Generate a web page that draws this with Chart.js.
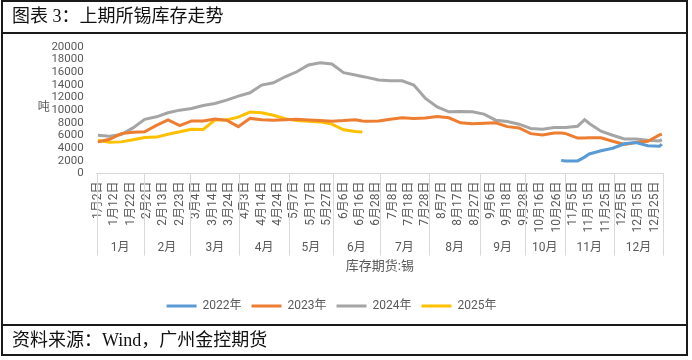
<!DOCTYPE html>
<html>
<head>
<meta charset="utf-8">
<script src="https://cdn.jsdelivr.net/npm/chart.js@4.4.1/dist/chart.umd.min.js"></script>
<style>
  html, body { margin: 0; padding: 0; background: #fff; }
  #wrap { position: relative; width: 692px; height: 360px; overflow: hidden; }
  #c { position: absolute; left: 0; top: 0; }
  .ln { position: absolute; background: #1a1a1a; pointer-events: none; }
  .txt { position: absolute; font-family: 'Liberation Serif', 'Noto Sans CJK SC', serif; font-size: 18px; color: #111; white-space: nowrap; line-height: 1; }
</style>
</head>
<body>
<div id="wrap">
  <canvas id="c" width="692" height="360"></canvas>
  <div class="ln" style="left:1px;top:0;width:687px;height:2px"></div>
  <div class="ln" style="left:1px;top:32px;width:687px;height:2px"></div>
  <div class="ln" style="left:1px;top:324px;width:687px;height:2px"></div>
  <div class="ln" style="left:1px;top:354px;width:687px;height:2px"></div>
  <div class="ln" style="left:1px;top:0;width:2px;height:356px"></div>
  <div class="ln" style="left:686px;top:0;width:2px;height:356px"></div>
  <div class="txt" style="left:12px;top:7px">图表 3：上期所锡库存走势</div>
  <div class="txt" style="left:12px;top:331px">资料来源：Wind，广州金控期货</div>
</div>
<script>
// 交易日序号（横轴按交易日排列）
const dayIdx = [0, 5, 10, 15, 20, 25, 30, 35, 40, 45, 50, 55, 60, 65, 70, 75, 80, 85, 90, 95, 100, 105, 110, 113, 115,
  120, 125, 130, 135, 140, 145, 150, 155, 160, 165, 170, 175, 180, 185, 190, 195, 198, 200, 205, 208, 210, 215, 220, 225, 230, 235, 240, 241];

const s2022 = [null, null, null, null, null, null, null, null, null, null, null, null, null, null, null, null, null, null, null, null, null, null, null, null, null,
  null, null, null, null, null, null, null, null, null, null, null, null, null, null, null, null, 2050, 2000, 2000, 2600, 3100, 3600, 4000, 4700, 4900, 4400, 4300, 4650];
const s2023 = [5000, 5400, 6300, 6500, 6600, 7600, 8450, 7550, 8300, 8300, 8600, 8400, 7400, 8700, 8500, 8400, 8500, 8550, 8450, 8350, 8250, 8350, 8500, 8300, 8250,
  8300, 8550, 8800, 8700, 8750, 9000, 8800, 8000, 7850, 7950, 8000, 7400, 7200, 6300, 6100, 6400, 6400, 6300, 5600, 5600, 5650, 5650, 5100, 4600, 4900, 5100, 6100, 6200];
const s2024 = [6050, 5900, 6150, 7200, 8550, 8950, 9580, 10000, 10270, 10740, 11060, 11580, 12210, 12740, 13950, 14320, 15260, 16050, 17110, 17480, 17270, 15900, 15530, 15300, 15170,
  14740, 14630, 14630, 13950, 11850, 10520, 9730, 9800, 9730, 9370, 8420, 8210, 7790, 7110, 7000, 7270, 7270, 7270, 7470, 8500, 7900, 6680, 6050, 5470, 5470, 5260, 5150, 5350];
const s2025 = [5200, 4950, 5000, 5350, 5700, 5750, 6200, 6600, 7000, 6950, 8450, 8450, 8900, 9700, 9600, 9200, 8650, 8350, 8250, 8150, 7800, 6900, 6650, 6550, null,
  null, null, null, null, null, null, null, null, null, null, null, null, null, null, null, null, null, null, null, null, null, null, null, null, null, null, null, null];

// 刻度标签（每7个交易日一个）
const tickDay = [0, 7, 14, 21, 28, 35, 42, 49, 56, 63, 70, 77, 84, 91, 98, 105, 112, 119, 126, 133, 140, 147, 154, 161, 168, 175, 182, 189, 196, 203, 210, 217, 224, 231, 238];
const tickLabels = ['1月2日', '1月12日', '1月22日', '2月2日', '2月13日', '2月23日', '3月4日', '3月14日', '3月24日', '4月3日', '4月14日', '4月24日',
  '5月7日', '5月17日', '5月27日', '6月6日', '6月16日', '6月28日', '7月8日', '7月18日', '7月28日', '8月7日', '8月17日', '8月27日',
  '9月6日', '9月18日', '9月28日', '10月16日', '10月26日', '11月5日', '11月15日', '11月25日', '12月5日', '12月15日', '12月25日'];

// 月份分组（每月第一个交易日序号）
const monthNames = ['1月', '2月', '3月', '4月', '5月', '6月', '7月', '8月', '9月', '10月', '11月', '12月'];
const monthStart = [0, 20, 40, 61, 82, 101, 121, 142, 164, 183, 200, 221, 242];

const seriesNames = ['2022年', '2023年', '2024年', '2025年'];
const seriesColors = ['#5B9BD5', '#ED7D31', '#A5A5A5', '#FFC000'];
const seriesData = [s2022, s2023, s2024, s2025];

const FONT = "Roboto, 'Noto Sans CJK SC', sans-serif";
const GREY = '#595959';
Chart.defaults.font.family = FONT;
Chart.defaults.color = GREY;

// 双层分类轴：月份分隔线与月份标签、"吨"
const monthAxis = {
  id: 'monthAxis',
  afterDraw(chart) {
    const x = chart.scales.x;
    const ctx = chart.ctx;
    const top = x.top;
    ctx.save();
    ctx.strokeStyle = '#d9d9d9';
    ctx.lineWidth = 1;
    monthStart.forEach((d) => {
      const px = Math.round(x.getPixelForValue(d - 0.5)) + 0.5;
      ctx.beginPath();
      ctx.moveTo(px, top);
      ctx.lineTo(px, top + 82);
      ctx.stroke();
    });
    ctx.fillStyle = GREY;
    ctx.font = '12px ' + FONT;
    ctx.textAlign = 'center';
    ctx.textBaseline = 'middle';
    monthNames.forEach((m, i) => {
      const a = x.getPixelForValue(monthStart[i] - 0.5);
      const b = x.getPixelForValue(monthStart[i + 1] - 0.5);
      ctx.fillText(m, (a + b) / 2, top + 74);
    });
    const ca = chart.chartArea;
    ctx.fillText('吨', ca.left - 53, (ca.top + ca.bottom) / 2 - 2);
    ctx.restore();
  }
};

new Chart(document.getElementById('c'), {
  type: 'line',
  data: {
    datasets: seriesData.map((arr, k) => ({
      label: seriesNames[k],
      data: dayIdx.map((d, i) => ({ x: d, y: arr[i] })),
      borderColor: seriesColors[k],
      backgroundColor: seriesColors[k],
      borderWidth: 3,
      pointRadius: 0,
      tension: 0,
      spanGaps: false
    }))
  },
  options: {
    responsive: false,
    animation: false,
    devicePixelRatio: 1,
    layout: { padding: { left: 0, right: 29, top: 46.7, bottom: 38 } },
    plugins: {
      tooltip: { enabled: false },
      legend: {
        position: 'bottom',
        labels: {
          boxWidth: 30,
          boxHeight: 3,
          padding: 10,
          color: GREY,
          font: { size: 12 },
          generateLabels: (chart) => Chart.defaults.plugins.legend.labels.generateLabels(chart)
            .map((l) => Object.assign(l, { lineWidth: 0 }))
        }
      }
    },
    scales: {
      x: {
        type: 'linear',
        min: -0.5,
        max: 241.5,
        afterFit: (s) => { s.height = 116.4; },
        afterBuildTicks: (s) => { s.ticks = tickDay.map((v) => ({ value: v })); },
        grid: { display: false, drawTicks: false },
        border: { display: true, color: '#d9d9d9', width: 1 },
        ticks: {
          autoSkip: false,
          minRotation: 90,
          maxRotation: 90,
          padding: 8,
          color: GREY,
          font: { size: 12 },
          callback: (v, i) => tickLabels[i]
        },
        title: {
          display: true,
          text: '库存期货:锡',
          color: GREY,
          font: { size: 13 },
          padding: { top: 0, bottom: 15 }
        }
      },
      y: {
        min: 0,
        max: 20000,
        afterFit: (s) => { s.width = 96.7; },
        grid: { display: false, drawTicks: false },
        border: { display: false },
        ticks: { stepSize: 2000, autoSkip: false, padding: 13, color: GREY, font: { size: 11.5 }, callback: (v) => String(v) }
      }
    }
  },
  plugins: [monthAxis]
});
</script>
</body>
</html>
